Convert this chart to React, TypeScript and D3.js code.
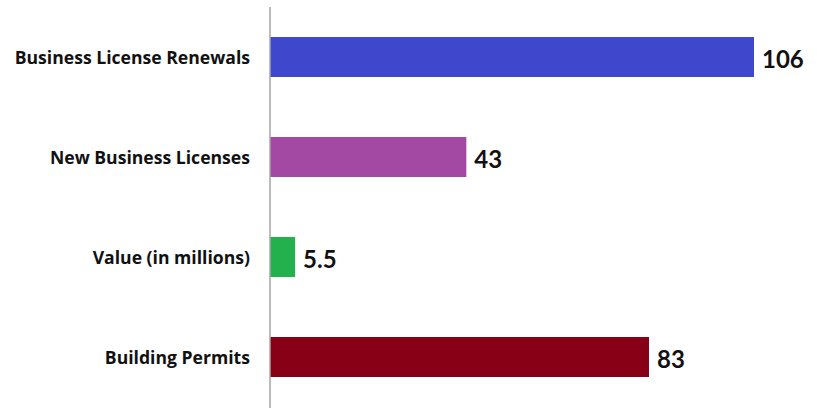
import React from "react";
import * as d3 from "d3";

const categories: string[] = [
  "Business License Renewals",
  "New Business Licenses",
  "Value (in millions)",
  "Building Permits",
];
const values: number[] = [106, 43, 5.5, 83];
const valueLabels: string[] = ["106", "43", "5.5", "83"];
const colors: string[] = ["#3F48CC", "#A349A4", "#22B14C", "#880015"];

const W = 817;
const H = 408;
const axisX = 270;

export default function App() {
  const x = d3.scaleLinear().domain([0, 106]).range([axisX, 754]);
  const y = d3
    .scaleBand<string>()
    .domain(categories)
    .range([7, 407])
    .paddingInner(0.6)
    .paddingOuter(0.3);

  return (
    <svg
      width={W}
      height={H}
      style={{ position: "absolute", left: 0, top: 0, background: "#fff" }}
    >
      {categories.map((c, i) => (
        <g key={c}>
          <rect
            x={x(0)}
            y={y(c)!}
            width={x(values[i]) - x(0)}
            height={y.bandwidth()}
            fill={colors[i]}
          />
          <text
            x={axisX - 20}
            y={y(c)! + y.bandwidth() / 2}
            textAnchor="end"
            dominantBaseline="central"
            fontFamily="'Open Sans', Lato, sans-serif"
            fontWeight="bold"
            fontSize={17.6}
            fill="#111"
          >
            {c}
          </text>
          <text
            x={x(values[i]) + 8}
            y={y(c)! + y.bandwidth() / 2 + 1}
            textAnchor="start"
            dominantBaseline="central"
            fontFamily="Lato, 'Open Sans', sans-serif"
            fontWeight="bold"
            fontSize={24}
            fill="#111"
          >
            {valueLabels[i]}
          </text>
        </g>
      ))}
      <line x1={axisX} x2={axisX} y1={7} y2={H} stroke="#A6A6A6" strokeWidth={1.5} />
    </svg>
  );
}
